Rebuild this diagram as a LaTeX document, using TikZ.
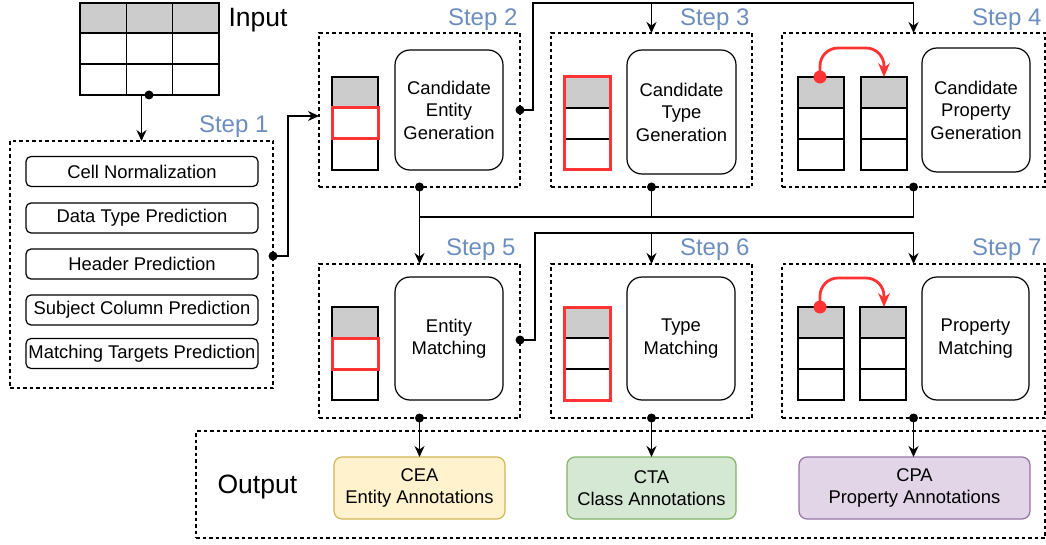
\documentclass[tikz,border=0pt]{standalone}
\usepackage{fontspec}
\setmainfont{Liberation Sans}
\usepackage{xcolor}
\usepackage{tikz}
\usetikzlibrary{positioning,arrows.meta,calc}

\definecolor{steptxt}{HTML}{6C8EBF}
\definecolor{hdrgray}{HTML}{CCCCCC}
\definecolor{markred}{HTML}{FF3333}
\definecolor{ceafill}{HTML}{FFF2CC}
\definecolor{ceaedge}{HTML}{D6B656}
\definecolor{ctafill}{HTML}{D5E8D4}
\definecolor{ctaedge}{HTML}{82B366}
\definecolor{cpafill}{HTML}{E1D5E7}
\definecolor{cpaedge}{HTML}{9673A6}

\newcommand{\boxfont}{\fontsize{18.4}{22.5}\selectfont}
\newcommand{\bigfont}{\fontsize{26.5}{30}\selectfont}

\begin{document}
\begin{tikzpicture}[x=1pt, y=-1pt, line width=1.2pt,
  stepbox/.style={draw, dash pattern=on 3.5pt off 3pt, inner sep=0pt, outer sep=0pt},
  procbox/.style={draw, rounded corners=15pt, align=center, font=\boxfont,
                  inner sep=0pt, outer sep=0pt},
  subtask/.style={draw, rounded corners=5pt, minimum width=232pt, minimum height=30pt,
                  font=\boxfont, inner sep=1pt},
  outbox/.style={draw, rounded corners=8pt, align=center, font=\boxfont,
                 minimum height=62pt, inner sep=0pt, outer sep=0pt},
  steptitle/.style={anchor=base east, text=steptxt, font=\fontsize{24}{28}\selectfont,
                    inner sep=0pt},
  flow/.style={-{Stealth[length=11pt,width=10pt]}},
  redflow/.style={draw=markred, line width=2.8pt, rounded corners=18pt,
                  -{Stealth[length=14pt,width=12pt,line width=0pt]}, markred},
  joint/.style={fill=black},
]
  \useasboundingbox (0,0) rectangle (1046,545);

  % --- Input table ---
  \fill[hdrgray] (80,3) rectangle (219,33);
  \draw (80,3) rectangle (219,95);
  \foreach \x in {126.3,172.7} \draw (\x,3) -- (\x,95);
  \foreach \y in {33,64} \draw (80,\y) -- (219,\y);
  \coordinate (tblout) at (149,95);
  \node[anchor=base west, font=\bigfont, inner sep=0pt] (inlbl) at (228,27) {Input};

  % --- Step 1 ---
  \node[stepbox, minimum width=263pt, minimum height=247pt] (s1) at (141.5,264.5) {};
  \node[steptitle] (t1) at (269,133) {Step 1};
  \node[subtask] (norm)   at (142,171.5) {Cell Normalization};
  \node[subtask] (dtype)  at (142,218)   {Data Type Prediction};
  \node[subtask] (header) at (142,264)   {Header Prediction};
  \node[subtask] (subj)   at (142,310)   {Subject Column Prediction};
  \node[subtask] (target) at (142,353.5) {Matching Targets Prediction};

  % --- Steps 2-4 (generation) ---
  \node[stepbox, minimum width=201pt, minimum height=154pt] (s2) at (419.5,110) {};
  \node[stepbox, minimum width=201pt, minimum height=154pt] (s3) at (651.5,110) {};
  \node[stepbox, minimum width=263pt, minimum height=154pt] (s4) at (913.5,110) {};
  \node[steptitle] (t2) at (518,26) {Step 2};
  \node[steptitle] (t3) at (750,26) {Step 3};
  \node[steptitle] (t4) at (1042,26) {Step 4};
  \node[procbox, minimum width=108pt, minimum height=120pt] (p2) at (449,110)
    {Candidate\\Entity\\Generation};
  \node[procbox, minimum width=109pt, minimum height=124pt] (p3) at (681.5,112)
    {Candidate\\Type\\Generation};
  \node[procbox, minimum width=108pt, minimum height=124pt] (p4) at (976,110)
    {Candidate\\Property\\Generation};

  % --- Steps 5-7 (matching) ---
  \node[stepbox, minimum width=201pt, minimum height=154pt] (s5) at (419.5,341) {};
  \node[stepbox, minimum width=201pt, minimum height=154pt] (s6) at (651.5,341) {};
  \node[stepbox, minimum width=263pt, minimum height=154pt] (s7) at (913.5,341) {};
  \node[steptitle] (t5) at (516,255) {Step 5};
  \node[steptitle] (t6) at (750,255) {Step 6};
  \node[steptitle] (t7) at (1042,255) {Step 7};
  \node[procbox, minimum width=108pt, minimum height=123pt] (p5) at (449,338.5)
    {Entity\\Matching};
  \node[procbox, minimum width=108pt, minimum height=123pt] (p6) at (681,338.5)
    {Type\\Matching};
  \node[procbox, minimum width=107pt, minimum height=123pt] (p7) at (975.5,338.5)
    {Property\\Matching};

  % --- Table columns inside the steps ---
  \foreach \cx/\cy in {332/77, 564/77, 798/77, 861/77, 332/307, 564/307, 798/307, 860/307} {
    \fill[hdrgray] (\cx,\cy) rectangle ++(46,31);
    \draw (\cx,\cy) rectangle ++(46,93);
    \draw (\cx,\cy+31) -- ++(46,0);
    \draw (\cx,\cy+62) -- ++(46,0);
  }
  \foreach \cy in {108,338} \draw[markred, line width=3pt] (332,\cy) rectangle ++(46,31);
  \foreach \cy in {77,307} \draw[markred, line width=3pt] (564,\cy) rectangle ++(46,93);
  \foreach \cy/\ty in {77/48, 307/278} {
    \draw[redflow] (820,\cy) |- (884,\ty) -- (884,\cy);
    \fill[markred] (820,\cy) circle (6.5);
  }

  % --- Output ---
  \node[stepbox, minimum width=849pt, minimum height=107pt] (out) at (620.5,484.5) {};
  \node[anchor=base west, font=\bigfont, inner sep=0pt] (outlbl) at (217,493) {Output};
  \node[outbox, fill=ceafill, draw=ceaedge, minimum width=171pt] (cea) at (419.5,488)
    {CEA\\Entity Annotations};
  \node[outbox, fill=ctafill, draw=ctaedge, minimum width=169pt] (cta) at (651.5,488)
    {CTA\\Class Annotations};
  \node[outbox, fill=cpafill, draw=cpaedge, minimum width=231pt] (cpa) at (914.5,488)
    {CPA\\Property Annotations};

  % --- Connectors ---
  \draw[flow] (tblout) -| (s1.north);
  \draw[flow] ([yshift=8.5pt]s1.east) -- ++(15,0) |- ([yshift=-6pt]s2.west);

  \coordinate (bus0) at (913.5,3);
  \draw[flow] (s2.east) -- ++(13,0) |- (bus0) -- (s4.north);
  \draw[flow] (s3.north |- bus0) -- (s3.north);

  \coordinate (bus1) at (419.5,217);
  \draw (s3.south) |- (bus1);
  \draw (s4.south) |- (bus1);
  \draw[flow] (s2.south) -- (s5.north);

  \coordinate (bus2) at (913.5,233);
  \draw[flow] ([yshift=1pt]s5.east) -- ++(15,0) |- (bus2) -- (s7.north);
  \draw[flow] (s6.north |- bus2) -- (s6.north);

  \draw[flow] (s5.south) -- (cea.north);
  \draw[flow] (s6.south) -- (cta.north);
  \draw[flow] (s7.south) -- (s7.south |- cpa.north);

  % --- Joints ---
  \foreach \pt in {tblout, s2.south, s3.south, s4.south, s2.east,
                   s5.south, s6.south, s7.south}
    \fill[joint] (\pt) circle (4.5);
  \fill[joint] ([yshift=8.5pt]s1.east) circle (4.5);
  \fill[joint] ([yshift=1pt]s5.east) circle (4.5);

\end{tikzpicture}
\end{document}
